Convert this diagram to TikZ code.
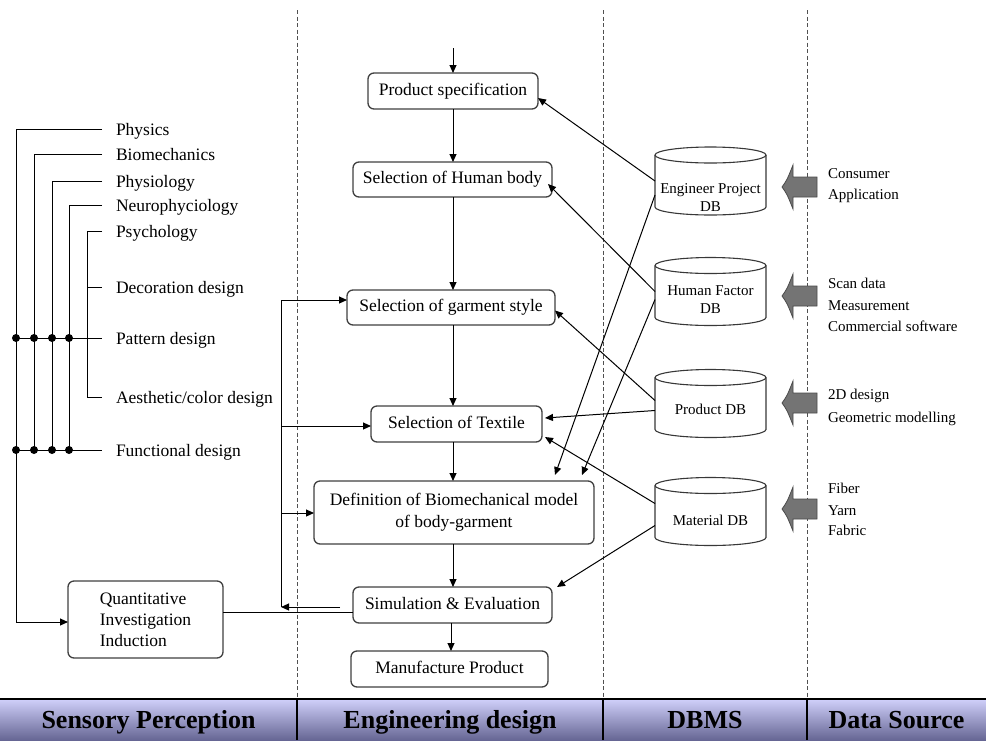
\documentclass[tikz,border=0pt]{standalone}
\usepackage{fontspec}
\setmainfont{Liberation Serif}
\usetikzlibrary{arrows.meta,calc}

\definecolor{boxline}{HTML}{404040}
\definecolor{cylline}{HTML}{383838}
\definecolor{dashline}{HTML}{505050}
\definecolor{srcfill}{HTML}{747474}
\definecolor{srcline}{HTML}{4A4A4A}
\definecolor{bartop}{RGB}{208,208,250}
\definecolor{barbot}{RGB}{102,102,148}

\begin{document}
\begin{tikzpicture}[x=1pt,y=-1pt,
  every node/.style={inner sep=0pt,outer sep=0pt},
  stagebox/.style={draw=boxline,line width=1.3pt,rounded corners=6pt,fill=white,
    align=center,font=\fontsize{17.5}{22}\selectfont},
  oneline/.style={text height=12pt,text depth=4pt},
  leaf/.style={anchor=west,inner xsep=14pt,text height=12pt,text depth=0pt,
    font=\fontsize{17.5}{21}\selectfont},
  dbbox/.style={minimum width=111pt,minimum height=68pt},
  dbtext/.style={align=center,font=\fontsize{15}{18}\selectfont},
  cyl/.style={draw=cylline,line width=1.1pt},
  srctext/.style={anchor=base west,font=\fontsize{15}{18}\selectfont},
  srcarrow/.style={fill=srcfill,draw=srcline,line width=0.8pt},
  arr/.style={-{Triangle[length=8pt,width=7pt]},line width=1pt},
  link/.style={line width=1pt},
  colsep/.style={draw=dashline,line width=0.9pt,dash pattern=on 4pt off 2.5pt},
  barlabel/.style={anchor=base,font=\bfseries\fontsize{26}{30}\selectfont}
]
\useasboundingbox (0,0) rectangle (986,740);

% column separators
\draw[colsep] (297,10) -- (297,699);
\draw[colsep] (603,10) -- (603,699);
\draw[colsep] (807,10) -- (807,699);

% ---------- engineering design chain ----------
\node[stagebox,oneline,minimum width=170pt,minimum height=36pt] (spec) at (453,91) {Product specification};
\node[stagebox,oneline,minimum width=199pt,minimum height=35pt] (body) at (452.5,179.5) {Selection of Human body};
\node[stagebox,oneline,minimum width=208pt,minimum height=35pt] (style) at (451,307.5) {Selection of garment style};
\node[stagebox,oneline,minimum width=171pt,minimum height=36pt] (textile) at (456.5,424) {Selection of Textile};
\node[stagebox,minimum width=280pt,minimum height=63pt] (biomech) at (454,512.5) {Definition of Biomechanical model\\of body-garment};
\node[stagebox,oneline,minimum width=199pt,minimum height=36pt] (sim) at (452.5,605) {Simulation \& Evaluation};
\node[stagebox,oneline,minimum width=197pt,minimum height=36pt] (manu) at (449.5,669) {Manufacture Product};

\coordinate (entry) at (453,48);
\draw[arr] (entry) -- (spec.north);
\draw[arr] (spec.south) -- (spec.south |- body.north);
\draw[arr] (spec.south |- body.south) -- (spec.south |- style.north);
\draw[arr] (spec.south |- style.south) -- (spec.south |- textile.north);
\draw[arr] (spec.south |- textile.south) -- (spec.south |- biomech.north);
\draw[arr] (spec.south |- biomech.south) -- (spec.south |- sim.north);
\draw[arr] (451,623) -- (451,651);

% feedback loop from simulation
\coordinate (loopb) at (281,607);
\coordinate (loopt) at (281,300);
\coordinate (loopm1) at (281,426);
\coordinate (loopm2) at (281,513);
\draw[arr] ([xshift=-13pt,yshift=-2pt]sim.west) -- (loopb);
\draw[link] (loopb) -- (loopt);
\draw[arr] (loopt) -- (loopt -| style.west);
\draw[arr] (loopm1) -- (loopm1 -| textile.west);
\draw[arr] (loopm2) -- (loopm2 -| biomech.west);

% ---------- sensory perception ----------
\node[leaf] (phys)   at (102,129) {Physics};
\node[leaf] (biom)   at (102,154) {Biomechanics};
\node[leaf] (physio) at (102,181) {Physiology};
\node[leaf] (neuro)  at (102,205) {Neurophyciology};
\node[leaf] (psy)    at (102,231) {Psychology};
\node[leaf] (deco)   at (102,287) {Decoration design};
\node[leaf] (patt)   at (102,338) {Pattern design};
\node[leaf] (aest)   at (102,397) {Aesthetic/color design};
\node[leaf] (func)   at (102,450) {Functional design};

\node[stagebox,minimum width=155pt,minimum height=77pt,align=left,
  font=\fontsize{17.5}{21}\selectfont] (quant) at (145.5,619.5)
  {Quantitative\\Investigation\\Induction};

\coordinate (tq) at (16,622);
\draw[arr] (phys.west) -| (tq) -- (tq -| quant.west);
\draw[link] (biom.west) -| (34,450);
\draw[link] (physio.west) -| (52,450);
\draw[link] (neuro.west) -| (69,450);
\draw[link] (psy.west) -| (87,397) -- (aest.west);
\draw[link] (87,287) -- (deco.west);
\draw[link] (16,338) -- (patt.west);
\draw[link] (16,450) -- (func.west);
\foreach \xx in {16,34,52,69} {
  \fill (\xx,338) circle[radius=4pt];
  \fill (\xx,450) circle[radius=4pt];
}
\draw[link] ([yshift=7.5pt]quant.east) -- ([yshift=7.5pt]quant.east -| sim.west);

% ---------- DBMS ----------
\node[dbbox] (ep) at (710.5,181) {};
\node[dbbox] (hf) at (710.5,291.5) {};
\node[dbbox] (pr) at (710.5,403.5) {};
\node[dbbox] (ma) at (710.5,511.5) {};
\foreach \n in {ep,hf,pr,ma} {
  \draw[cyl] ($(\n.north west)+(0,8)$) -- ($(\n.south west)+(0,-8)$)
    arc[start angle=180,end angle=360,x radius=55.5pt,y radius=8pt]
    -- ($(\n.north east)+(0,8)$);
  \draw[cyl] ($(\n.north)+(0,8)$) ellipse[x radius=55.5pt,y radius=8pt];
}
\node[dbtext] (epT) at (710.5,197.5) {Engineer Project\\DB};
\node[dbtext] (hfT) at (710.5,299.5) {Human Factor\\DB};
\node[dbtext] (prT) at (710.5,409) {Product DB};
\node[dbtext] (maT) at (710.5,520) {Material DB};

\draw[arr] (ep.west) -- ([yshift=-7pt]spec.east);
\draw[arr] ([yshift=-14pt]ep.west) -- ([xshift=101pt,yshift=6pt]biomech.north);
\draw[arr] (hf.west) -- ([xshift=-4pt,yshift=-4.5pt]body.east);
\draw[arr] ([yshift=-8pt]hf.west) -- ([xshift=128pt,yshift=6pt]biomech.north);
\draw[arr] ([yshift=3pt]pr.west) -- ([yshift=-3pt]style.east);
\draw[arr] ([yshift=-7pt]pr.west) -- ([xshift=3pt,yshift=6pt]textile.east);
\draw[arr] ([yshift=8pt]ma.west) -- ([xshift=3pt,yshift=-13pt]textile.east);
\draw[arr] ([yshift=-14pt]ma.west) -- ([xshift=5pt]sim.north east);

% ---------- data sources: broad grey input arrows ----------
\foreach \cy in {187,296,403,509} {
  \filldraw[srcarrow] (782,\cy) .. controls (787,\cy-7) .. (793,\cy-22)
    -- (793,\cy-10) -- (817,\cy-10) -- (817,\cy+10) -- (793,\cy+10)
    -- (793,\cy+22) .. controls (787,\cy+7) .. cycle;
}
\node[srctext] (s1a) at (828,178) {Consumer};
\node[srctext] (s1b) at (828,199) {Application};
\node[srctext] (s2a) at (828,288) {Scan data};
\node[srctext] (s2b) at (828,310) {Measurement};
\node[srctext] (s2c) at (828,331) {Commercial software};
\node[srctext] (s3a) at (828,399) {2D design};
\node[srctext] (s3b) at (828,422) {Geometric modelling};
\node[srctext] (s4a) at (828,493) {Fiber};
\node[srctext] (s4b) at (828,515) {Yarn};
\node[srctext] (s4c) at (828,535) {Fabric};

% ---------- bottom bar ----------
\shade[top color=bartop,bottom color=barbot] (0,699) rectangle (986,740);
\draw[line width=1.5pt] (0,699) -- (986,699);
\foreach \xx in {297,603,807} \draw[line width=1.3pt] (\xx,699) -- (\xx,740);
\node[barlabel] (bar1) at (148.5,728) {Sensory Perception};
\node[barlabel] (bar2) at (450,728) {Engineering design};
\node[barlabel] (bar3) at (705,728) {DBMS};
\node[barlabel] (bar4) at (896.5,728) {Data Source};
\end{tikzpicture}
\end{document}
